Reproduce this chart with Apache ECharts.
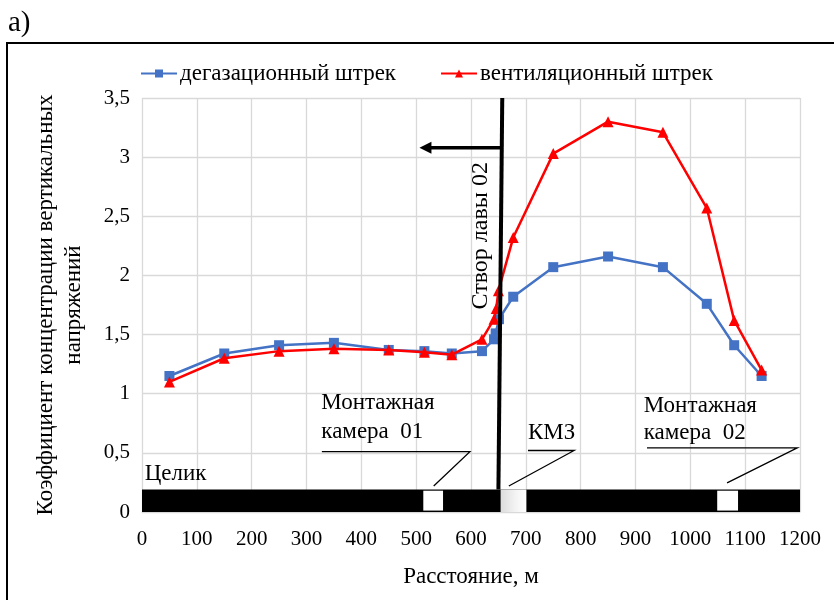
<!DOCTYPE html>
<html><head><meta charset="utf-8">
<script src="https://cdn.jsdelivr.net/npm/echarts@6/dist/echarts.min.js"></script>
<style>html,body{margin:0;padding:0;background:#fff}#c{width:834px;height:600px}</style>
</head><body><div id="c"></div>
<script>
// ---- data ----
const seriesNames = ['дегазационный штрек', 'вентиляционный штрек'];
const distDeg  = [50, 150, 250, 350, 450, 515, 565, 620, 642, 645, 651, 677, 750, 850, 950, 1030, 1080, 1130];
const kDeg     = [1.15, 1.34, 1.41, 1.43, 1.37, 1.36, 1.34, 1.36, 1.46, 1.51, 1.63, 1.82, 2.07, 2.16, 2.07, 1.76, 1.41, 1.15];
const distVent = [50, 150, 250, 350, 450, 515, 565, 620, 642, 646, 650, 677, 750, 850, 950, 1030, 1080, 1130];
const kVent    = [1.10, 1.30, 1.36, 1.38, 1.37, 1.35, 1.33, 1.46, 1.63, 1.72, 1.87, 2.32, 3.03, 3.30, 3.21, 2.57, 1.62, 1.20];
const xRange = [0, 1200, 100];
const yRange = [0, 3.5, 0.5];
const pillarSpan = [0, 1200];
const pillarTop = 0.19;
const chamberGaps = [[513, 549], [1049, 1087]];
const kmzGap = [654, 701];
const faceLineTop = [657, 3.5];
const faceLineBottom = [650, 0.19];
const arrowLevel = 3.08;
const arrowTip = 506;

const FONT = "'Liberation Serif', 'Times New Roman', serif";
const chart = echarts.init(document.getElementById('c'), null, {renderer: 'canvas'});

function overlay(params, api) {
  const P = (x, y) => api.coord([x, y]);
  const ch = [];
  // pillar (Целик)
  const a = P(pillarSpan[0], pillarTop), b = P(pillarSpan[1], 0);
  ch.push({type: 'rect', shape: {x: a[0], y: a[1], width: b[0] - a[0], height: b[1] - a[1]}, style: {fill: '#000'}});
  chamberGaps.forEach(g => {
    const p = P(g[0], pillarTop - 0.01), q = P(g[1], 0.012);
    ch.push({type: 'rect', shape: {x: p[0], y: p[1], width: q[0] - p[0], height: q[1] - p[1]}, style: {fill: '#fff'}});
  });
  {
    const p = P(kmzGap[0], pillarTop), q = P(kmzGap[1], 0);
    ch.push({type: 'rect', shape: {x: p[0], y: p[1], width: q[0] - p[0], height: q[1] - p[1]},
      style: {fill: new echarts.graphic.LinearGradient(0, 0, 1, 0, [{offset: 0, color: '#dcdcdc'}, {offset: 0.6, color: '#f4f4f4'}, {offset: 1, color: '#ffffff'}])}});
  }
  // leader lines
  const leaders = [
    [[328, 0.51], [598, 0.51], [532, 0.22]],
    [[704, 0.52], [788, 0.52], [669, 0.22]],
    [[921, 0.542], [1195, 0.542], [1067, 0.246]]
  ];
  leaders.forEach(l => ch.push({type: 'polyline', shape: {points: l.map(p => P(p[0], p[1]))}, style: {stroke: '#000', lineWidth: 1.3, fill: null}}));
  // labels
  const txt = (s, x, y) => {
    const p = P(x, y);
    return {type: 'text', x: p[0], y: p[1],
      style: {text: s, fontFamily: FONT, fontSize: 23, fill: '#000', textAlign: 'left', textVerticalAlign: 'middle'}};
  };
  ch.push(txt('Монтажная', 327, 0.925));
  ch.push(txt('камера  01', 327, 0.68));
  ch.push(txt('КМЗ', 704, 0.67));
  ch.push(txt('Монтажная', 915, 0.9));
  ch.push(txt('камера  02', 915, 0.67));
  ch.push(txt('Целик', 5, 0.318));
  // face line
  const ft = P(faceLineTop[0], faceLineTop[1]), fb = P(faceLineBottom[0], faceLineBottom[1]);
  ch.push({type: 'line', shape: {x1: ft[0], y1: ft[1], x2: fb[0], y2: fb[1]}, style: {stroke: '#000', lineWidth: 4}});
  // arrow
  const ay = P(0, arrowLevel)[1];
  const fx = ft[0] + (fb[0] - ft[0]) * (ay - ft[1]) / (fb[1] - ft[1]);
  const tip = P(arrowTip, arrowLevel)[0];
  ch.push({type: 'line', shape: {x1: fx, y1: ay, x2: tip + 8, y2: ay}, style: {stroke: '#000', lineWidth: 3.5}});
  ch.push({type: 'polygon', shape: {points: [[tip, ay], [tip + 12, ay - 6], [tip + 12, ay + 6]]}, style: {fill: '#000'}});
  // rotated label
  const rc = P(618, 2.335);
  ch.push({type: 'text', x: rc[0], y: rc[1], rotation: Math.PI / 2,
    style: {text: 'Створ лавы 02', fontFamily: FONT, fontSize: 24, fill: '#000', textAlign: 'center', textVerticalAlign: 'middle'}});
  return {type: 'group', children: ch};
}

const option = {
  animation: false,
  backgroundColor: '#fff',
  textStyle: {fontFamily: FONT},
  graphic: [
    {type: 'rect', shape: {x: 7, y: 43, width: 840, height: 570}, style: {fill: null, stroke: '#000', lineWidth: 2}, z: 100},
    {type: 'text', left: 8, top: 9, style: {text: 'а)', fontFamily: FONT, fontSize: 29, fill: '#000'}}
  ],
  legend: {
    data: seriesNames,
    left: 140, top: 62, padding: 0,
    itemWidth: 36, itemHeight: 10, itemGap: 44,
    textStyle: {fontFamily: FONT, fontSize: 23, color: '#000', padding: [0, 0, 0, -2]}
  },
  grid: {left: 142, right: 34, top: 98, bottom: 88, containLabel: false},
  xAxis: {
    type: 'value', min: xRange[0], max: xRange[1], interval: xRange[2],
    name: 'Расстояние, м', nameLocation: 'middle', nameGap: 53,
    nameTextStyle: {fontFamily: FONT, fontSize: 23, color: '#000'},
    axisLine: {show: true, lineStyle: {color: '#d9d9d9'}},
    axisTick: {show: false},
    axisLabel: {fontFamily: FONT, fontSize: 21, color: '#000', margin: 17, formatter: v => String(v)},
    splitLine: {show: true, lineStyle: {color: '#d9d9d9', width: 1.3}}
  },
  yAxis: {
    type: 'value', min: yRange[0], max: yRange[1], interval: yRange[2],
    name: 'Коэффициент концентрации вертикальных\nнапряжений', nameLocation: 'middle', nameRotate: 90, nameGap: 54,
    nameTextStyle: {fontFamily: FONT, fontSize: 23, color: '#000', lineHeight: 28},
    axisLine: {show: false}, axisTick: {show: false},
    axisLabel: {fontFamily: FONT, fontSize: 21, color: '#000', margin: 12, formatter: v => String(v).replace('.', ',')},
    splitLine: {show: true, lineStyle: {color: '#d9d9d9', width: 1.3}}
  },
  series: [
    {name: seriesNames[0], type: 'line', data: distDeg.map((x, i) => [x, kDeg[i]]),
      symbol: 'rect', symbolSize: 10, color: '#4472C4', lineStyle: {width: 2.5, color: '#4472C4'},
      itemStyle: {color: '#4472C4'}, z: 3},
    {name: seriesNames[1], type: 'line', data: distVent.map((x, i) => [x, kVent[i]]),
      symbol: 'triangle', symbolSize: 11, color: '#FF0000', lineStyle: {width: 2.5, color: '#FF0000'},
      itemStyle: {color: '#FF0000'}, z: 4},
    {name: 'overlay', type: 'custom', data: [[0, 0]], renderItem: overlay, z: 10, silent: true, clip: false}
  ]
};
chart.setOption(option);
</script></body></html>
